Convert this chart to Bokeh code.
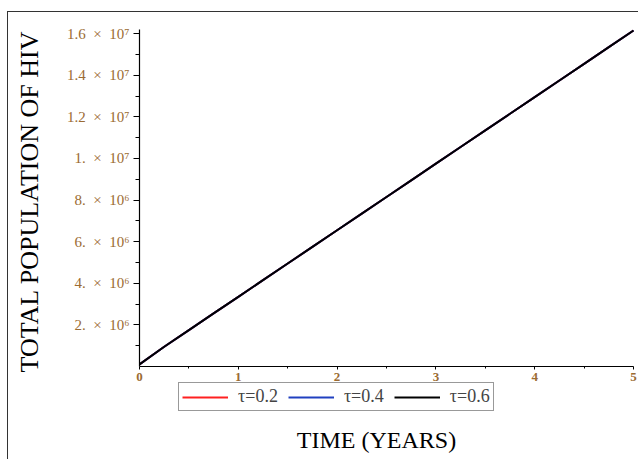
import numpy as np
from bokeh.plotting import figure
from bokeh.models import (Range1d, FixedTicker, Legend, LegendItem, Label)
from bokeh.embed import file_html
from bokeh.resources import INLINE

# ---- data ----
t_years = [0, 0.25, 0.5, 0.75, 1.0, 1.25, 1.5, 1.75, 2.0, 2.25, 2.5,
           2.75, 3.0, 3.25, 3.5, 3.75, 4.0, 4.25, 4.5, 4.75, 5.0]
pop_tau_02 = [0.1e6, 0.95e6, 1.75e6, 2.55e6, 3.35e6, 4.15e6, 4.95e6, 5.75e6, 6.55e6, 7.35e6, 8.15e6,
              8.95e6, 9.75e6, 10.55e6, 11.35e6, 12.15e6, 12.95e6, 13.75e6, 14.55e6, 15.35e6, 16.15e6]
pop_tau_04 = [0.1e6, 0.95e6, 1.75e6, 2.55e6, 3.35e6, 4.15e6, 4.95e6, 5.75e6, 6.55e6, 7.35e6, 8.15e6,
              8.95e6, 9.75e6, 10.55e6, 11.35e6, 12.15e6, 12.95e6, 13.75e6, 14.55e6, 15.35e6, 16.15e6]
pop_tau_06 = [0.1e6, 0.95e6, 1.75e6, 2.55e6, 3.35e6, 4.15e6, 4.95e6, 5.75e6, 6.55e6, 7.35e6, 8.15e6,
              8.95e6, 9.75e6, 10.55e6, 11.35e6, 12.15e6, 12.95e6, 13.75e6, 14.55e6, 15.35e6, 16.15e6]
series_names = ["\u03c4=0.2", "\u03c4=0.4", "\u03c4=0.6"]
series_colors = ["#ff2020", "#2040c0", "#000000"]

x_ticks = [0, 1, 2, 3, 4, 5]
x_minor = [0.5, 1.5, 2.5, 3.5, 4.5]
y_ticks = [2e6, 4e6, 6e6, 8e6, 1e7, 1.2e7, 1.4e7, 1.6e7]
y_minor = [1e6, 3e6, 5e6, 7e6, 9e6, 1.1e7, 1.3e7, 1.5e7]
sp = "\u2002"
y_tick_labels = ["2." + sp + "\u00d7" + sp + "10\u2076", "4." + sp + "\u00d7" + sp + "10\u2076",
                 "6." + sp + "\u00d7" + sp + "10\u2076", "8." + sp + "\u00d7" + sp + "10\u2076",
                 "1." + sp + "\u00d7" + sp + "10\u2077", "1.2" + sp + "\u00d7" + sp + "10\u2077",
                 "1.4" + sp + "\u00d7" + sp + "10\u2077", "1.6" + sp + "\u00d7" + sp + "10\u2077"]

FONT = "Liberation Serif"
TICK_COLOR = "#9b6b32"

# The frame covers the whole figure; both axes are pinned at the data origin.
W, H = 631, 448
X0_PX, X5_PX = 131, 625        # screen x of t=0 and t=5 inside the figure
Y0_PX, YTOP_PX = 354, 17       # screen y (from top) of 0 and 1.62e7
Y_TOP = 1.62e7
x_scale = (X5_PX - X0_PX) / 5.0
y_scale = (Y0_PX - YTOP_PX) / Y_TOP
X_START = -X0_PX / x_scale
X_END = 5 + (W - X5_PX) / x_scale
Y_END = Y_TOP + YTOP_PX / y_scale
Y_START = -(H - Y0_PX) / y_scale

p = figure(width=W, height=H, output_backend="svg", toolbar_location=None,
           x_range=Range1d(X_START, X_END), y_range=Range1d(Y_START, Y_END),
           min_border_left=0, min_border_right=0, min_border_top=0, min_border_bottom=0)
p.styles = {"border-top": "1px solid #333333", "border-left": "1px solid #333333",
            "margin-left": "7px", "margin-top": "11px"}
p.outline_line_color = None
p.xgrid.visible = False
p.ygrid.visible = False
p.background_fill_color = "white"
p.border_fill_color = "white"

renderers = []
for ys, c in zip([pop_tau_02, pop_tau_04, pop_tau_06], series_colors):
    r = p.line(t_years, ys, line_color=c, line_width=2)
    renderers.append(r)

# axes
p.xaxis.fixed_location = 0
p.yaxis.fixed_location = 0
p.xaxis.bounds = (0, 5)
p.yaxis.bounds = (0, Y_TOP)
p.xaxis.ticker = FixedTicker(ticks=x_ticks, minor_ticks=x_minor)
p.yaxis.ticker = FixedTicker(ticks=y_ticks, minor_ticks=y_minor)
p.yaxis.major_label_overrides = {v: s for v, s in zip(y_ticks, y_tick_labels)}
for ax in [p.xaxis[0], p.yaxis[0]]:
    ax.axis_line_color = "black"
    ax.axis_line_width = 1.2
    ax.major_tick_line_color = "black"
    ax.minor_tick_line_color = "black"
    ax.major_tick_in = 0
    ax.minor_tick_in = 0
    ax.major_label_text_font = FONT
    ax.major_label_text_color = TICK_COLOR
    ax.major_label_text_font_style = "normal"
p.yaxis.major_tick_out = 6
p.yaxis.minor_tick_out = 4
p.yaxis.major_label_text_font_size = "15px"
p.yaxis.major_label_standoff = 4
p.xaxis.major_tick_out = 3
p.xaxis.minor_tick_out = 2
p.xaxis.major_label_text_font_size = "13px"
p.xaxis.major_label_text_font_style = "bold"
p.xaxis.major_label_standoff = 3

# y-axis title
p.add_layout(Label(x=21, y=H - 189, x_units="screen", y_units="screen",
                   text="TOTAL POPULATION OF HIV", angle=np.pi / 2,
                   text_font=FONT, text_font_size="26px", text_align="center",
                   text_baseline="middle", text_color="black"))

# legend beneath the x axis
legend = Legend(items=[LegendItem(label=n, renderers=[r]) for n, r in zip(series_names, renderers)],
                orientation="horizontal", location=(170, 49),
                label_text_font=FONT, label_text_font_size="18px",
                glyph_width=46, glyph_height=12, label_standoff=10, spacing=10,
                padding=3, margin=0, border_line_color="#333333", border_line_width=1.5,
                label_height=12)
p.add_layout(legend, "center")

# x-axis title
p.add_layout(Label(x=368, y=21, x_units="screen", y_units="screen", text="TIME (YEARS)",
                   text_font=FONT, text_font_size="24px", text_align="center",
                   text_baseline="middle", text_color="black"))

open("out.html", "w").write(file_html(p, INLINE))
